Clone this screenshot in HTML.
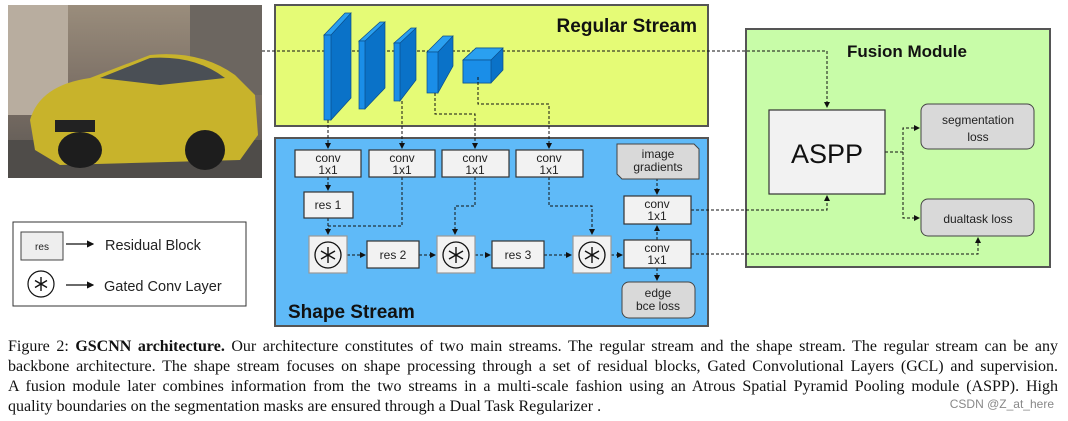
<!DOCTYPE html>
<html><head><meta charset="utf-8"><style>
body{margin:0;background:#fff;width:1068px;height:421px;overflow:hidden;position:relative}
svg{position:absolute;left:0;top:0}
.cap{position:absolute;left:8px;top:337px;width:1050px;font-family:"Liberation Serif",serif;font-size:16px;line-height:20px;color:#111}
.cap div{text-align:justify;text-align-last:justify;white-space:nowrap}
.cap div.l{text-align-last:left}
.wm{position:absolute;right:14px;top:397px;font-family:"Liberation Sans",sans-serif;font-size:12px;color:#888}
</style></head><body>
<svg width="1068" height="421" viewBox="0 0 1068 421" font-family="Liberation Sans, sans-serif">
<defs>
<marker id="a" markerWidth="6" markerHeight="6" refX="5" refY="3" orient="auto"><path d="M0,0L6,3L0,6z" fill="#111"/></marker>
<linearGradient id="car" x1="0" y1="0" x2="0" y2="1"><stop offset="0" stop-color="#9a8d7c"/><stop offset=".5" stop-color="#7b6f65"/><stop offset="1" stop-color="#5a5652"/></linearGradient>
</defs>
<rect x="8" y="5" width="254" height="173" fill="url(#car)"/>
<rect x="8" y="5" width="60" height="110" fill="#b8ad9f"/>
<rect x="190" y="5" width="72" height="90" fill="#6c6660"/>
<rect x="8" y="140" width="254" height="38" fill="#4f4c49"/>
<path d="M30,120 Q40,85 90,78 L150,55 Q200,50 235,75 L255,95 L258,135 L240,160 L60,165 L35,150z" fill="#c8b32b"/>
<path d="M100,78 L150,58 Q195,55 225,78 L160,85z" fill="#4a4f55"/>
<ellipse cx="80" cy="150" rx="22" ry="18" fill="#1d1d1d"/>
<ellipse cx="205" cy="150" rx="20" ry="20" fill="#1d1d1d"/>
<rect x="55" y="120" width="40" height="12" fill="#222"/>
<rect x="275" y="5" width="433" height="121" fill="#e5fb76" stroke="#555" stroke-width="2"/>
<text x="697" y="32" text-anchor="end" font-size="19" font-weight="bold" fill="#111">Regular Stream</text>
<rect x="275" y="138" width="433" height="188" fill="#5fbaf8" stroke="#555" stroke-width="2"/>
<text x="288" y="318" font-size="19" font-weight="bold" fill="#111">Shape Stream</text>
<rect x="746" y="29" width="304" height="238" fill="#c8fca8" stroke="#555" stroke-width="2"/>
<text x="907" y="57" text-anchor="middle" font-size="17" font-weight="bold" fill="#111">Fusion Module</text>
<g fill="none" stroke="#111" stroke-width="1" stroke-dasharray="3,2">
<path d="M262,51 H827 V107" marker-end="url(#a)"/>
</g>
<g stroke="#0b4d8a" stroke-width="0.7">
<path d="M324,35 L351,13 L351,98 L331,120 Z" fill="#0a72c8"/><path d="M324,35 L331,35 L351,13 L345,13Z" fill="#2aa0f0"/><rect x="324" y="35" width="7" height="85" fill="#1a8ee8"/>
<path d="M359,41 L385,22 L385,88 L365,109 Z" fill="#0a72c8"/><path d="M359,41 L365,41 L385,22 L380,22Z" fill="#2aa0f0"/><rect x="359" y="41" width="6" height="68" fill="#1a8ee8"/>
<path d="M394,43 L416,28 L416,80 L400,101 Z" fill="#0a72c8"/><path d="M394,43 L400,43 L416,28 L411,28Z" fill="#2aa0f0"/><rect x="394" y="43" width="6" height="58" fill="#1a8ee8"/>
<path d="M427,52 L453,36 L453,66 L438,93 Z" fill="#0a72c8"/><path d="M427,52 L438,52 L453,36 L443,36Z" fill="#2aa0f0"/><rect x="427" y="52" width="11" height="41" fill="#1a8ee8"/>
<path d="M463,60 L476,48 L503,48 L503,70 L491,83 L463,83Z" fill="#0a72c8"/><path d="M463,60 L476,48 L503,48 L491,60Z" fill="#2aa0f0"/><rect x="463" y="60" width="28" height="23" fill="#1a8ee8"/>
</g>
<g fill="none" stroke="#111" stroke-width="1" stroke-dasharray="3,2">
<path d="M328,120 V148" marker-end="url(#a)"/>
<path d="M402,101 V148" marker-end="url(#a)"/>
<path d="M435,93 V114 H475 V148" marker-end="url(#a)"/>
<path d="M478,77 V104 H549 V148" marker-end="url(#a)"/>
<path d="M328,177 V190" marker-end="url(#a)"/>
<path d="M328,218 V234" marker-end="url(#a)"/>
<path d="M402,177 V226 H328"/>
<path d="M475,177 V206 H455 V234" marker-end="url(#a)"/>
<path d="M549,177 V206 H592 V234" marker-end="url(#a)"/>
<path d="M347,255 H365" marker-end="url(#a)"/>
<path d="M419,255 H435" marker-end="url(#a)"/>
<path d="M475,255 H490" marker-end="url(#a)"/>
<path d="M544,255 H571" marker-end="url(#a)"/>
<path d="M611,255 H622" marker-end="url(#a)"/>
<path d="M657,178 V194" marker-end="url(#a)"/>
<path d="M657,240 V226" marker-end="url(#a)"/>
<path d="M657,268 V280" marker-end="url(#a)"/>
<path d="M691,210 H827 V196" marker-end="url(#a)"/>
<path d="M691,254 H978 V238" marker-end="url(#a)"/>
<path d="M885,152 H903 V128 H919" marker-end="url(#a)"/>
<path d="M903,152 V218 H919" marker-end="url(#a)"/>
</g>
<g fill="#f2f2f2" stroke="#333" stroke-width="1.2">
<rect x="295" y="150" width="66" height="27"/><rect x="369" y="150" width="66" height="27"/><rect x="442" y="150" width="67" height="27"/><rect x="516" y="150" width="67" height="27"/>
<rect x="304" y="192" width="49" height="26"/>
<rect x="367" y="241" width="52" height="27"/><rect x="492" y="241" width="52" height="27"/>
<rect x="624" y="196" width="67" height="28"/><rect x="624" y="240" width="67" height="28"/>
<rect x="309" y="236" width="38" height="37" stroke="#999"/><rect x="437" y="236" width="38" height="37" stroke="#999"/><rect x="573" y="236" width="38" height="37" stroke="#999"/>
</g>
<path d="M617,144 H694 L699,149 V179 H622 L617,174Z" fill="#d9d9d9" stroke="#444"/>
<rect x="622" y="282" width="73" height="36" rx="7" fill="#d9d9d9" stroke="#444"/>
<g font-size="12" text-anchor="middle" fill="#222">
<text x="328" y="162">conv</text><text x="328" y="174">1x1</text>
<text x="402" y="162">conv</text><text x="402" y="174">1x1</text>
<text x="475" y="162">conv</text><text x="475" y="174">1x1</text>
<text x="549" y="162">conv</text><text x="549" y="174">1x1</text>
<text x="328" y="209">res 1</text><text x="393" y="259">res 2</text><text x="518" y="259">res 3</text>
<text x="658" y="158">image</text><text x="658" y="171">gradients</text>
<text x="657" y="208">conv</text><text x="657" y="220">1x1</text>
<text x="657" y="252">conv</text><text x="657" y="264">1x1</text>
<text x="658" y="297">edge</text><text x="658" y="310">bce loss</text>
</g>
<rect x="769" y="110" width="116" height="84" fill="#f2f2f2" stroke="#333" stroke-width="1.2"/>
<text x="827" y="163" text-anchor="middle" font-size="27" fill="#111">ASPP</text>
<rect x="921" y="104" width="113" height="45" rx="7" fill="#d9d9d9" stroke="#444"/>
<rect x="921" y="199" width="113" height="37" rx="7" fill="#d9d9d9" stroke="#444"/>
<g font-size="12" text-anchor="middle" fill="#222"><text x="978" y="124">segmentation</text><text x="978" y="141">loss</text><text x="978" y="223">dualtask loss</text></g>
<rect x="13" y="222" width="233" height="84" fill="#fff" stroke="#333"/>
<rect x="21" y="232" width="42" height="28" fill="#eee" stroke="#444"/>
<text x="42" y="250" text-anchor="middle" font-size="10" fill="#222">res</text>
<path d="M66,244 H93" stroke="#111" stroke-width="1.2" marker-end="url(#a)"/>
<text x="105" y="250" font-size="14.5" fill="#222">Residual Block</text>
<circle cx="41" cy="284" r="13" fill="none" stroke="#111" stroke-width="1.2"/>
<path d="M66,285 H93" stroke="#111" stroke-width="1.2" marker-end="url(#a)"/>
<text x="104" y="291" font-size="14.5" fill="#222">Gated Conv Layer</text>
<g fill="none" stroke="#111" stroke-width="1.3">
<circle cx="328" cy="255" r="13"/><circle cx="456" cy="255" r="13"/><circle cx="592" cy="255" r="13"/>
</g>
<g stroke="#111" stroke-width="1.4">
<path d="M328,247V263M321,251L335,259M321,259L335,251"/>
<path d="M456,247V263M449,251L463,259M449,259L463,251"/>
<path d="M592,247V263M585,251L599,259M585,259L599,251"/>
<path d="M41,277V291M35,280.5L47,287.5M35,287.5L47,280.5"/>
</g>
</svg>
<div class="cap">
<div>Figure 2: <b>GSCNN architecture.</b> Our architecture constitutes of two main streams. The regular stream and the shape stream. The regular stream can be any</div>
<div>backbone architecture. The shape stream focuses on shape processing through a set of residual blocks, Gated Convolutional Layers (GCL) and supervision.</div>
<div>A fusion module later combines information from the two streams in a multi-scale fashion using an Atrous Spatial Pyramid Pooling module (ASPP). High</div>
<div class="l">quality boundaries on the segmentation masks are ensured through a Dual Task Regularizer .</div>
</div>
<div class="wm">CSDN @Z_at_here</div>
</body></html>
